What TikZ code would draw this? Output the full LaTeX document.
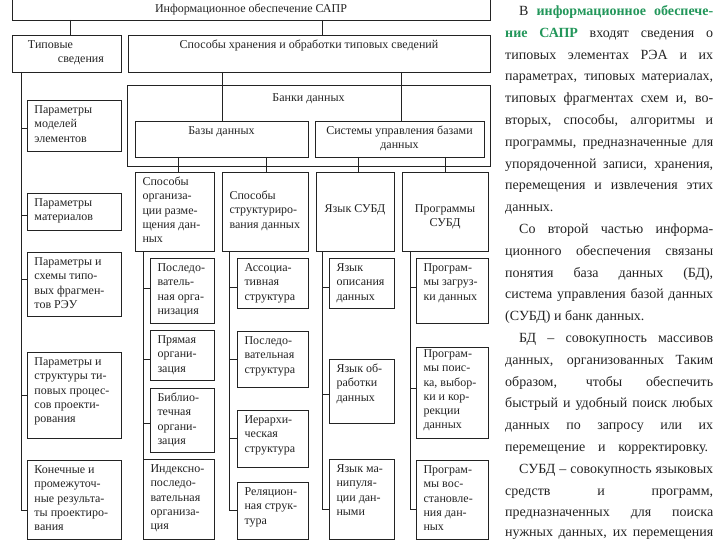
\documentclass[tikz,border=0pt]{standalone}
\usepackage{fontspec}
\setmainfont{Liberation Serif}
\definecolor{grn}{RGB}{34,150,90}
\definecolor{ink}{RGB}{35,35,35}
\tikzset{
  box/.style={draw=ink, line width=0.8pt, inner sep=0pt, outer sep=0pt, text=ink, font=\fontsize{12}{14.2}\selectfont},
  conn/.style={draw=ink, line width=0.8pt},
  ptext/.style={anchor=base west, inner sep=0pt, text=ink, font=\fontsize{14}{16}\selectfont},
}
\newcommand\bx[7][0pt]{\node[box, anchor=north west] (#2) at (#3,#4) {\parbox[c][#6pt][t]{#5pt}{\vspace*{\dimexpr3.8pt+#1\relax}\raggedright\leftskip=7.5pt\relax\strut#7\par}};}
\newcommand\cbx[7][0pt]{\node[box, anchor=north west] (#2) at (#3,#4) {\parbox[c][#6pt][t]{#5pt}{\vspace*{\dimexpr3.8pt+#1\relax}\centering\strut#7\par}};}
\newcommand\stub[3]{\coordinate (#1c) at ([yshift=#2pt]#1.west); \draw[conn] (#1c -| #3) -- (#1c);}
\begin{document}
\begin{tikzpicture}[x=1pt,y=-1pt]
\useasboundingbox (0,0) rectangle (720,540);
% column coordinates
\coordinate (xA) at (70,0);
\coordinate (xB) at (322,0);
\coordinate (xC) at (222,0);
\coordinate (xD) at (401,0);
\coordinate (xE) at (178,0);
\coordinate (xF) at (266,0);
\coordinate (xG) at (358,0);
\coordinate (xH) at (445,0);
\coordinate (t0) at (21,0);
\coordinate (t1) at (143,0);
\coordinate (t2) at (229,0);
\coordinate (t3) at (322,0);
\coordinate (t4) at (410,0);
% upper boxes
\cbx[1.5pt]{info}{12}{-3}{478}{23}{Информационное обеспечение САПР}
\bx{tip}{12}{35}{109}{37}{\hspace*{8.5pt}Типовые\\\hspace*{38.5pt}сведения}
\cbx{spos}{128}{35}{362}{37}{Способы хранения и обработки типовых сведений}
\cbx[3pt]{banki}{127}{85}{363}{81}{Банки данных}
\cbx{bazy}{135}{121}{173}{36}{Базы данных}
\cbx{sysubd}{315}{121}{169}{36}{Системы управления базами\\данных}
\bx{sorg}{135}{172}{79}{79}{Способы\\организа-\\ции разме-\\щения дан-\\ных}
\bx[14pt]{sstr}{222}{172}{86}{79}{Способы\\структуриро-\\вания данных}
\cbx[27pt]{yaz}{316}{172}{78}{79}{Язык СУБД}
\cbx[27pt]{prog}{402}{172}{86}{79}{Программы\\СУБД}
% left column
\bx{p1}{27}{100}{94}{51}{Параметры\\моделей\\элементов}
\bx{p2}{27}{193}{94}{37}{Параметры\\материалов}
\bx{p3}{27}{252}{94}{64}{Параметры и\\схемы типо-\\вых фрагмен-\\тов РЭУ}
\bx{p4}{27}{352}{94}{86}{Параметры и\\структуры ти-\\повых процес-\\сов проекти-\\рования}
\bx{p5}{27}{460}{94}{79}{Конечные и\\промежуточ-\\ные результа-\\ты проектиро-\\вания}
% column 1
\bx{o1}{150}{258}{64}{65}{Последо-\\ватель-\\ная орга-\\низация}
\bx{o2}{150}{330}{64}{50}{Прямая\\органи-\\зация}
\bx{o3}{150}{388}{64}{64}{Библио-\\течная\\органи-\\зация}
\bx{o4}{143}{459}{71}{80}{Индексно-\\последо-\\вательная\\организа-\\ция}
% column 2
\bx{s1}{237}{258}{71}{50}{Ассоциа-\\тивная\\структура}
\bx{s2}{237}{331}{71}{56}{Последо-\\вательная\\структура}
\bx{s3}{237}{410}{71}{57}{Иерархи-\\ческая\\структура}
\bx{s4}{237}{482}{71}{57}{Реляцион-\\ная струк-\\тура}
% column 3
\bx{l1}{329}{258}{65}{50}{Язык\\описания\\данных}
\bx{l2}{329}{359}{65}{64}{Язык об-\\работки\\данных}
\bx{l3}{329}{459}{65}{80}{Язык ма-\\нипуля-\\ции дан-\\ными}
% column 4
\bx{g1}{416}{258}{72}{65}{Програм-\\мы загруз-\\ки данных}
\bx[-3pt]{g2}{416}{347}{72}{91}{Програм-\\мы поис-\\ка, выбор-\\ки и кор-\\рекции\\данных}
\bx{g3}{416}{460}{72}{79}{Програм-\\мы вос-\\становле-\\ния дан-\\ных}
% tree connectors
\draw[conn] (info.south -| xA) -- (tip.north -| xA);
\draw[conn] (info.south -| xB) -- (spos.north -| xB);
\draw[conn] (spos.south -| xC) -- (bazy.north -| xC);
\draw[conn] (spos.south -| xD) -- (sysubd.north -| xD);
\draw[conn] (bazy.south -| xE) -- (sorg.north -| xE);
\draw[conn] (bazy.south -| xF) -- (sstr.north -| xF);
\draw[conn] (sysubd.south -| xG) -- (yaz.north -| xG);
\draw[conn] (sysubd.south -| xH) -- (prog.north -| xH);
% stubs
\stub{p1}{-2.5}{t0}
\stub{p2}{-3.5}{t0}
\stub{p3}{5}{t0}
\stub{p4}{0}{t0}
\stub{p5}{-10.5}{t0}
\stub{o1}{2.5}{t1}
\stub{o2}{-4}{t1}
\stub{o3}{-3}{t1}
\stub{s1}{-4}{t2}
\stub{s2}{0}{t2}
\stub{s3}{0}{t2}
\stub{s4}{0}{t2}
\stub{l1}{-4}{t3}
\stub{l2}{-3}{t3}
\stub{l3}{-10}{t3}
\stub{g1}{3.5}{t4}
\stub{g2}{4.5}{t4}
\stub{g3}{-9.5}{t4}
% trunks
\draw[conn] (tip.south -| t0) -- (p5c -| t0);
\draw[conn] (sorg.south -| t1) -- (o4.north west);
\draw[conn] (sstr.south -| t2) -- (s4c -| t2);
\draw[conn] (yaz.south -| t3) -- (l3c -| t3);
\draw[conn] (prog.south -| t4) -- (g3c -| t4);
% right paragraph
\node[ptext] (r1) at (519,15.5) {\makebox[194pt][s]{В \textbf{\color{grn}информационное обеспече-}}};
\node[ptext] (r2) at (505,37.3) {\makebox[208pt][s]{\textbf{\color{grn}ние САПР} входят сведения о}};
\node[ptext] (r3) at (505,59.1) {\makebox[208pt][s]{типовых элементах РЭА и их}};
\node[ptext] (r4) at (505,80.9) {\makebox[208pt][s]{параметрах, типовых материалах,}};
\node[ptext] (r5) at (505,102.7) {\makebox[208pt][s]{типовых фрагментах схем и, во-}};
\node[ptext] (r6) at (505,124.5) {\makebox[208pt][s]{вторых, способы, алгоритмы и}};
\node[ptext] (r7) at (505,146.3) {\makebox[208pt][s]{программы, предназначенные для}};
\node[ptext] (r8) at (505,168.1) {\makebox[208pt][s]{упорядоченной записи, хранения,}};
\node[ptext] (r9) at (505,189.9) {\makebox[208pt][s]{перемещения и извлечения этих}};
\node[ptext] (r10) at (505,211.7) {данных.};
\node[ptext] (r11) at (519,233.5) {\makebox[194pt][s]{Со второй частью информа-}};
\node[ptext] (r12) at (505,255.3) {\makebox[208pt][s]{ционного обеспечения связаны}};
\node[ptext] (r13) at (505,277.1) {\makebox[208pt][s]{понятия база данных (БД),}};
\node[ptext] (r14) at (505,298.9) {\makebox[208pt][s]{система управления базой данных}};
\node[ptext] (r15) at (505,320.7) {(СУБД) и банк данных.};
\node[ptext] (r16) at (519,342.5) {\makebox[194pt][s]{БД – совокупность массивов}};
\node[ptext] (r17) at (505,364.3) {\makebox[208pt][s]{данных, организованных Таким}};
\node[ptext] (r18) at (505,386.1) {\makebox[208pt][s]{образом, чтобы обеспечить}};
\node[ptext] (r19) at (505,407.9) {\makebox[208pt][s]{быстрый и удобный поиск любых}};
\node[ptext] (r20) at (505,429.7) {\makebox[208pt][s]{данных по запросу или их}};
\node[ptext] (r21) at (505,451.5) {\makebox[203pt][s]{перемещение и корректировку.}};
\node[ptext] (r22) at (519,473.3) {\makebox[194pt][s]{СУБД – совокупность языковых}};
\node[ptext] (r23) at (505,495.1) {\makebox[208pt][s]{средств и программ,}};
\node[ptext] (r24) at (505,516.9) {\makebox[208pt][s]{предназначенных для поиска}};
\node[ptext] (r25) at (505,536.5) {\makebox[208pt][s]{нужных данных, их перемещения}};
\end{tikzpicture}
\end{document}
